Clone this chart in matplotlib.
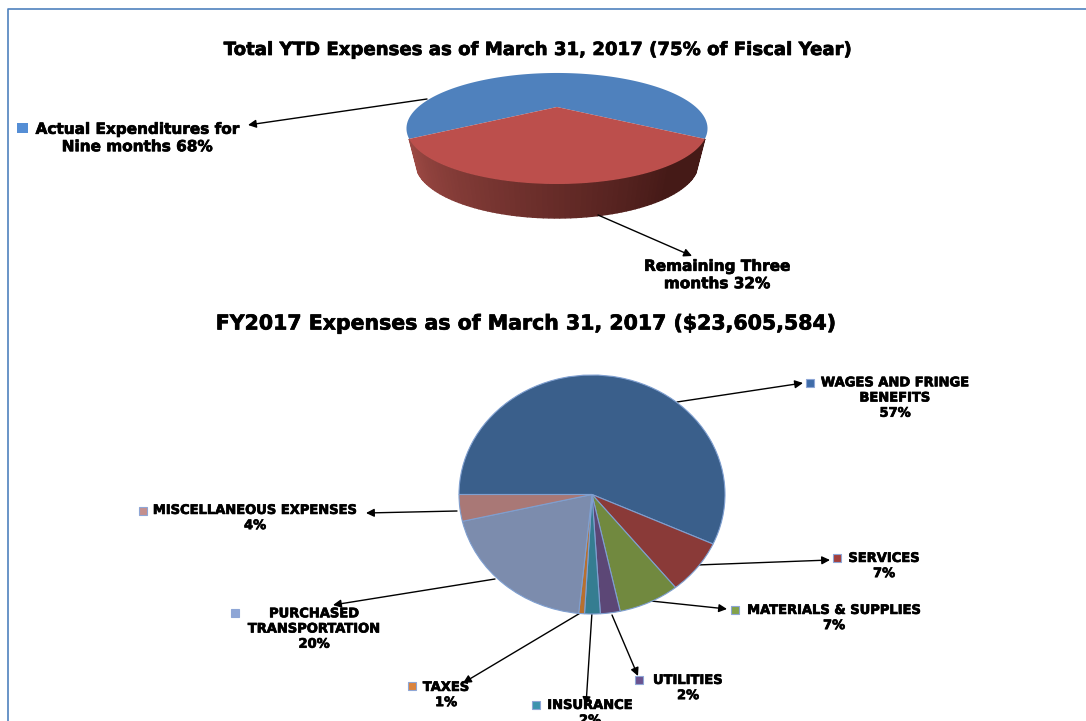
import numpy as np
from matplotlib import pyplot as plt
from matplotlib import patheffects as pe
from matplotlib.patches import Polygon, Rectangle

W, H = 1086, 721

# top chart
top_labels = ["Actual Expenditures for\nNine months 68%", "Remaining Three\nmonths 32%"]
top_values = [68, 32]

# bottom chart, clockwise from 9 o'clock
cats = ["WAGES AND FRINGE\nBENEFITS\n57%", "SERVICES\n7%", "MATERIALS & SUPPLIES\n7%", "UTILITIES\n2%",
        "INSURANCE\n2%", "TAXES\n1%", "PURCHASED\nTRANSPORTATION\n20%", "MISCELLANEOUS EXPENSES\n4%"]
vals = [56.8, 7.4, 7.4, 2.4, 1.9, 0.7, 19.8, 3.6]
colors = ["#3A5F8B", "#8A3A38", "#71893F", "#5C4776", "#357D91", "#B7702F", "#7C8CAD", "#A97876"]
key_colors = ["#3F6CA8", "#A33F3C", "#83A24A", "#6A5290", "#3D93AE", "#DB843D", "#8EA6D6", "#C48F8D"]

# label centre, key square, arrow start, arrow end (pixels)
text_xy = [(895, 398), (884, 566), (834, 618), (688, 688), (590, 713), (446, 695), (314, 629), (255, 518)]
key_xy = [(810, 383), (837, 558), (735, 610), (639, 680), (536, 705), (412, 686), (235, 613), (143, 511)]
arrow_from = [(677, 402), (697, 565), (651, 601), (612, 615), (592, 612), (582, 612), (495, 579), (457, 511)]
arrow_to = [(803, 383), (830, 560), (727, 609), (638, 676), (586, 705), (463, 683), (333, 605), (366, 513)]

heavy = [pe.withStroke(linewidth=0.5, foreground="black")]
arrow = dict(arrowstyle="-|>", color="black", lw=1, shrinkA=0, shrinkB=0, mutation_scale=12)


def persp(theta, scale=1.0, drop=0.0):
    # tilted disc with the near side stretched
    x, y = np.cos(theta), np.sin(theta)
    d = 1 + 0.387 * y
    return np.column_stack([557 + scale * 138.8 * x / d, 107 - 47.2 * y / d + drop])


fig = plt.figure(figsize=(W / 100, H / 100), dpi=100)
plt.rcParams["font.family"] = "DejaVu Sans"
ax = fig.add_axes([0, 0, 1, 1])
ax.set_xlim(0, W)
ax.set_ylim(H, 0)
ax.axis("off")

# frame of the slide
ax.plot([8, 8, W], [H, 9, 9], color="#4F81BD", lw=1.2)

ax.text(537, 50, "Total YTD Expenses as of March 31, 2017 (75% of Fiscal Year)", ha="center", va="center",
        fontsize=13.05, fontweight="bold", path_effects=heavy)
ax.text(526, 324, "FY2017 Expenses as of March 31, 2017 ($23,605,584)", ha="center", va="center",
        fontsize=14.75, fontweight="bold", path_effects=heavy)

# top 3d pie
half = np.radians(top_values[1] / sum(top_values) * 360 / 2)
start, end = -np.pi / 2 - half, -np.pi / 2 + half
blue = np.linspace(end, start + 2 * np.pi, 120)
red = np.linspace(start, end, 80)
apex = np.array([[557, 107]])

# side wall as strips so it darkens to the right
c0, c1 = np.array([0.62, 0.29, 0.27]), np.array([0.27, 0.10, 0.09])
for i in range(len(red) - 1):
    t = red[i:i + 2]
    upper = persp(t)
    lower = persp(t[::-1], 0.94, 34)
    f = i / (len(red) - 2)
    col = c0 + (c1 - c0) * min(1, f * 1.25)
    ax.add_patch(Polygon(np.vstack([upper, lower]), closed=True, fc=col, ec=col, lw=1.0))
ax.add_patch(Polygon(np.vstack([apex, persp(blue)]), closed=True, fc="#4F81BD", ec="none"))
ax.add_patch(Polygon(np.vstack([apex, persp(red)]), closed=True, fc="#BC4F4C", ec="none"))

ax.add_patch(Rectangle((17, 123), 11, 10, fc="#558ED5", ec="none"))
ax.text(137, 138, top_labels[0], ha="center", va="center", fontsize=11, fontweight="bold", linespacing=1.2,
        path_effects=heavy)
ax.text(717, 275, top_labels[1], ha="center", va="center", fontsize=11, fontweight="bold", linespacing=1.2,
        path_effects=heavy)
for p, q in [((427, 99), (248, 125)), ((598, 215), (692, 256))]:
    ax.annotate("", xy=q, xytext=p, arrowprops=arrow)

# bottom pie
pie_ax = fig.add_axes([459 / W, 1 - 614 / H, 266 / W, 239 / H])
pie_ax.pie(vals, colors=colors, startangle=180, counterclock=False,
           wedgeprops=dict(edgecolor="#7F9FD0", linewidth=0.8))
pie_ax.set_aspect("auto")
pie_ax.set_xlim(-1, 1)
pie_ax.set_ylim(-1, 1)

for i in range(len(cats)):
    kx, ky = key_xy[i]
    ax.add_patch(Rectangle((kx - 4, ky - 4), 8, 8, fc=key_colors[i], ec="#8EA6D6", lw=0.8))
    ax.text(text_xy[i][0], text_xy[i][1], cats[i], ha="center", va="center", fontsize=9.4, fontweight="bold",
            linespacing=1.22, path_effects=heavy)
    ax.annotate("", xy=arrow_to[i], xytext=arrow_from[i], zorder=5, arrowprops=arrow)

fig.savefig("out.png", dpi=100)
